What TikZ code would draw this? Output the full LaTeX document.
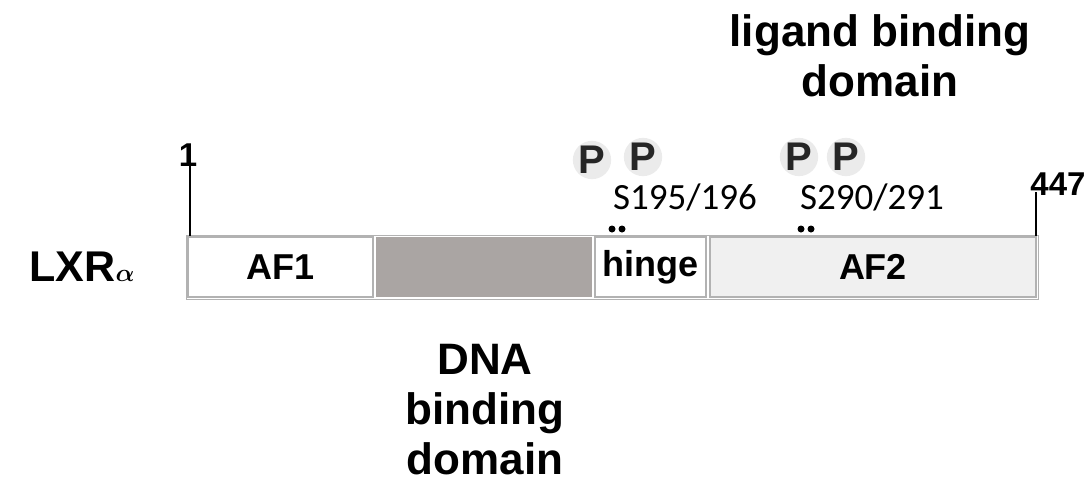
\documentclass[tikz,border=0pt]{standalone}
\usepackage{amsmath}
\usepackage{fontspec}
\setmainfont{Liberation Sans}
\newfontfamily\carl{Carlito}
\begin{document}
\begin{tikzpicture}[x=1pt,y=-1pt,
  dom/.style={draw=black!30,line width=1.2pt,minimum height=60pt,inner sep=0,font=\fontsize{36}{36}\selectfont\bfseries},
  lab/.style={align=center,font=\fontsize{44}{50}\selectfont\bfseries},
  pp/.style={circle,fill=black!8,minimum size=38pt,inner sep=0,font=\fontsize{40}{40}\selectfont\bfseries,text=black!85},
  ss/.style={font=\carl\fontsize{37}{37}\selectfont},
  dot/.style={circle,fill=black,inner sep=0,minimum size=7pt}]
\useasboundingbox (0,0) rectangle (1090,483);
\definecolor{dbdc}{RGB}{170,165,163}
\node[dom,fill=white,minimum width=185pt] (af1) at (280.5,267) {AF1};
\node[dom,fill=dbdc,draw=none,minimum width=216pt] (dbd) at (484,267) {};
\node[dom,fill=white,minimum width=111pt] (hinge) at (650.5,267) {hinge};
\node[dom,fill=black!6,minimum width=326pt] (af2) at (873,267) {AF2};
\draw[black!30,line width=1pt] (186,235) rectangle (1038,299);
\coordinate (t1) at (190,165); \coordinate (b1) at (190,236);
\coordinate (t2) at (1036,192); \coordinate (b2) at (1036,236);
\draw[line width=1.2pt] (t1) -- (b1);
\draw[line width=1.2pt] (t2) -- (b2);
\node[font=\fontsize{33}{33}\selectfont\bfseries] (n1) at (188,155) {1};
\node[font=\fontsize{33}{33}\selectfont\bfseries] (n2) at (1058,184) {447};
\node[font=\fontsize{43}{43}\selectfont\bfseries] (lxr) at (82,267) {LXR$\boldsymbol{\alpha}$};
\node[lab] (lbd) at (880,56) {ligand binding\\domain};
\node[lab] (dna) at (485,410) {DNA\\binding\\domain};
\node[pp] (p1) at (592,160) {P};
\node[pp] (p2) at (643,157) {P};
\node[pp] (p3) at (799,157) {P};
\node[pp] (p4) at (846,157) {P};
\node[ss] (s1) at (685,197) {S195/196};
\node[ss] (s2) at (872,197) {S290/291};
\node[dot] (d1) at (612,229) {}; \node[dot] (d2) at (622,229) {};
\node[dot] (d3) at (801,229) {}; \node[dot] (d4) at (811,229) {};
\end{tikzpicture}
\end{document}
